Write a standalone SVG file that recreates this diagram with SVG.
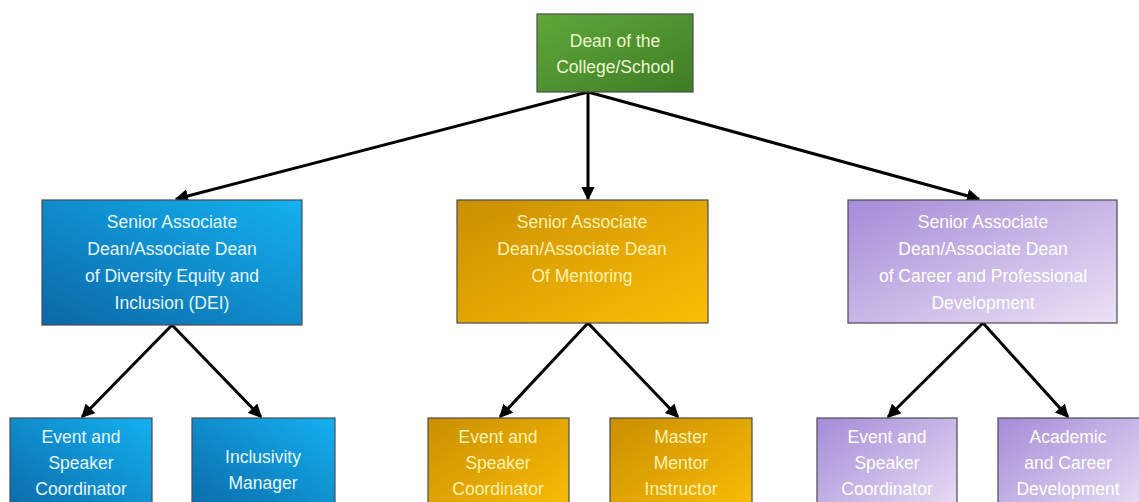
<svg xmlns="http://www.w3.org/2000/svg" width="1139" height="502" viewBox="0 0 1139 502">
<defs>
<linearGradient id="gGreen" x1="0" y1="0" x2="1" y2="1"><stop offset="0" stop-color="#5fa83a"/><stop offset="1" stop-color="#3f7c25"/></linearGradient>
<linearGradient id="gBlue" x1="0" y1="1" x2="1" y2="0"><stop offset="0" stop-color="#0b68a6"/><stop offset="1" stop-color="#14b0f0"/></linearGradient>
<linearGradient id="gGold" x1="0" y1="0" x2="1" y2="1"><stop offset="0" stop-color="#c98f00"/><stop offset="1" stop-color="#fbbf06"/></linearGradient>
<linearGradient id="gPurple" x1="0" y1="0" x2="1" y2="1"><stop offset="0" stop-color="#a48bd8"/><stop offset="1" stop-color="#ece2f5"/></linearGradient>
<marker id="arr" viewBox="0 0 10 10" refX="9" refY="5" markerWidth="4.5" markerHeight="4.5" orient="auto" markerUnits="strokeWidth"><path d="M0,0 L10,5 L0,10 z" fill="#000"/></marker>
</defs>
<style>
.box{stroke:#4a4a52;stroke-width:1.2}
.t{font-family:"Liberation Sans",Arial,sans-serif;font-size:17.5px;text-anchor:middle}
.tg{fill:#ecf6cf}
.tb{fill:#e4f6ff}
.ty{fill:#fff1ae}
.tp{fill:#ffffff}
.c{stroke:#000;stroke-width:3;fill:none;marker-end:url(#arr)}
</style>
<rect width="1139" height="502" fill="#ffffff"/>
<g id="connectors">
<line class="c" x1="588" y1="92" x2="176" y2="199"/>
<line class="c" x1="588" y1="92" x2="588" y2="199"/>
<line class="c" x1="588" y1="92" x2="979" y2="199"/>
<line class="c" x1="172" y1="325" x2="82" y2="417"/>
<line class="c" x1="172" y1="325" x2="261" y2="417"/>
<line class="c" x1="588" y1="323" x2="500" y2="417"/>
<line class="c" x1="588" y1="323" x2="678" y2="417"/>
<line class="c" x1="983" y1="323" x2="888" y2="417"/>
<line class="c" x1="983" y1="323" x2="1068" y2="417"/>
</g>
<g id="dean">
<rect class="box" x="537" y="14" width="156" height="78" fill="url(#gGreen)"/>
<text class="t tg" x="615" y="47">Dean of the</text>
<text class="t tg" x="615" y="73">College/School</text>
</g>
<g id="dei">
<rect class="box" x="42" y="200" width="260" height="125" fill="url(#gBlue)"/>
<text class="t tb" x="172" y="228">Senior Associate</text>
<text class="t tb" x="172" y="255">Dean/Associate Dean</text>
<text class="t tb" x="172" y="282">of Diversity Equity and</text>
<text class="t tb" x="172" y="309">Inclusion (DEI)</text>
</g>
<g id="mentoring">
<rect class="box" x="457" y="200" width="251" height="123" fill="url(#gGold)"/>
<text class="t ty" x="582" y="228">Senior Associate</text>
<text class="t ty" x="582" y="255">Dean/Associate Dean</text>
<text class="t ty" x="582" y="282">Of Mentoring</text>
</g>
<g id="career">
<rect class="box" x="848" y="200" width="269" height="123" fill="url(#gPurple)"/>
<text class="t tp" x="983" y="228">Senior Associate</text>
<text class="t tp" x="983" y="255">Dean/Associate Dean</text>
<text class="t tp" x="983" y="282">of Career and Professional</text>
<text class="t tp" x="983" y="309">Development</text>
</g>
<g id="dei-event">
<rect class="box" x="10" y="418" width="142" height="100" fill="url(#gBlue)"/>
<text class="t tb" x="81" y="443">Event and</text>
<text class="t tb" x="81" y="469">Speaker</text>
<text class="t tb" x="81" y="495">Coordinator</text>
</g>
<g id="dei-inclusivity">
<rect class="box" x="192" y="418" width="143" height="100" fill="url(#gBlue)"/>
<text class="t tb" x="263" y="463">Inclusivity</text>
<text class="t tb" x="263" y="489">Manager</text>
</g>
<g id="mentor-event">
<rect class="box" x="428" y="418" width="141" height="100" fill="url(#gGold)"/>
<text class="t ty" x="498" y="443">Event and</text>
<text class="t ty" x="498" y="469">Speaker</text>
<text class="t ty" x="498" y="495">Coordinator</text>
</g>
<g id="mentor-master">
<rect class="box" x="610" y="418" width="142" height="100" fill="url(#gGold)"/>
<text class="t ty" x="681" y="443">Master</text>
<text class="t ty" x="681" y="469">Mentor</text>
<text class="t ty" x="681" y="495">Instructor</text>
</g>
<g id="career-event">
<rect class="box" x="817" y="418" width="140" height="100" fill="url(#gPurple)"/>
<text class="t tp" x="887" y="443">Event and</text>
<text class="t tp" x="887" y="469">Speaker</text>
<text class="t tp" x="887" y="495">Coordinator</text>
</g>
<g id="career-academic">
<rect class="box" x="998" y="418" width="145" height="100" fill="url(#gPurple)"/>
<text class="t tp" x="1068" y="443">Academic</text>
<text class="t tp" x="1068" y="469">and Career</text>
<text class="t tp" x="1068" y="495">Development</text>
</g>
</svg>
